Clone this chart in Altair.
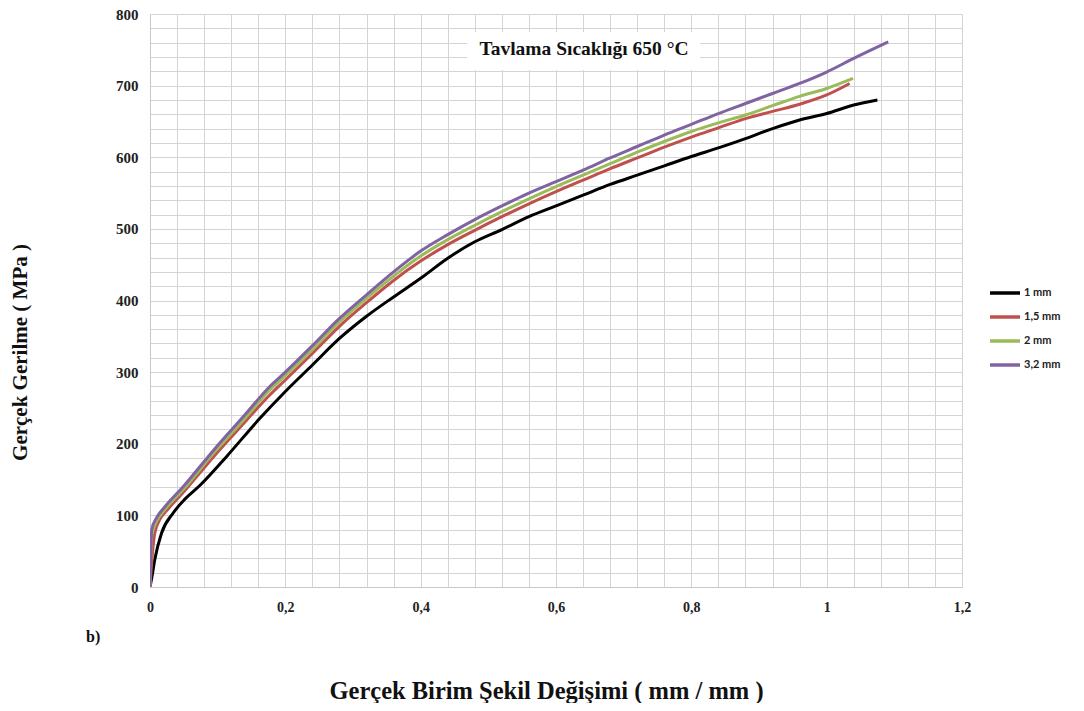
import altair as alt
import pandas as pd

# ---- data ----
series_names = ["1 mm", "1,5 mm", "2 mm", "3,2 mm"]
series_colors = ["#000000", "#c0504d", "#9bbb59", "#8064a2"]

x_1mm = [0, 0.003, 0.007, 0.017, 0.034, 0.052, 0.074, 0.113, 0.16, 0.2, 0.24, 0.28, 0.32, 0.36, 0.4, 0.44,
         0.48, 0.52, 0.56, 0.6, 0.64, 0.68, 0.72, 0.76, 0.8, 0.84, 0.88, 0.92, 0.96, 1.0, 1.04, 1.075]
y_1mm = [0, 15, 38, 75, 103, 123, 142, 182, 233, 273, 310, 347, 378, 405, 431, 459,
         482, 499, 517, 532, 547, 562, 575, 588, 601, 613, 626, 640, 652, 661, 673, 680]

x_15mm = [0, 0.003, 0.007, 0.015, 0.025, 0.05, 0.094, 0.14, 0.177, 0.2, 0.24, 0.28, 0.32, 0.36, 0.4,
          0.44, 0.48, 0.52, 0.56, 0.6, 0.64, 0.68, 0.72, 0.76, 0.8, 0.84, 0.88, 0.92, 0.96, 1.0, 1.034]
y_15mm = [0, 40, 75, 95, 107, 133, 182, 230, 268, 289, 326, 364, 397, 428, 455,
          478, 498, 517, 535, 552, 568, 584, 599, 614, 628, 641, 654, 664, 674, 687, 703]

x_2mm = [0, 0.001, 0.0025, 0.01, 0.022, 0.049, 0.094, 0.14, 0.177, 0.2, 0.24, 0.28, 0.32, 0.36, 0.4,
         0.44, 0.48, 0.52, 0.56, 0.6, 0.64, 0.68, 0.72, 0.76, 0.8, 0.84, 0.88, 0.92, 0.96, 1.0, 1.039]
y_2mm = [0, 35, 72, 92, 108, 136, 187, 235, 275, 295, 332, 370, 403, 434, 462,
         485, 505, 524, 542, 559, 575, 591, 607, 622, 636, 648, 659, 672, 685, 696, 710]

x_32mm = [0, 0.001, 0.0025, 0.01, 0.022, 0.049, 0.094, 0.14, 0.177, 0.2, 0.24, 0.28, 0.32, 0.36, 0.4,
          0.44, 0.48, 0.52, 0.56, 0.6, 0.64, 0.68, 0.72, 0.76, 0.8, 0.84, 0.88, 0.92, 0.96, 1.0, 1.04, 1.091]
y_32mm = [0, 40, 80, 97, 112, 140, 191, 240, 280, 300, 337, 375, 408, 440, 469,
          492, 513, 532, 550, 566, 582, 599, 615, 631, 646, 661, 675, 689, 703, 719, 738, 761]

x_grid_values = [0, 0.04, 0.08, 0.12, 0.16, 0.2, 0.24, 0.28, 0.32, 0.36, 0.4, 0.44, 0.48, 0.52, 0.56,
                 0.6, 0.64, 0.68, 0.72, 0.76, 0.8, 0.84, 0.88, 0.92, 0.96, 1.0, 1.04, 1.08, 1.12,
                 1.16, 1.2]
y_grid_values = [0, 20, 40, 60, 80, 100, 120, 140, 160, 180, 200, 220, 240, 260, 280, 300, 320, 340,
                 360, 380, 400, 420, 440, 460, 480, 500, 520, 540, 560, 580, 600, 620, 640, 660, 680,
                 700, 720, 740, 760, 780, 800]

title_text = "Tavlama Sıcaklığı 650 °C"
x_title = "Gerçek Birim Şekil Değişimi ( mm / mm )"
y_title = "Gerçek Gerilme ( MPa )"
panel_label = "b)"

# ---- build long table ----
rows = []
for name, xs, ys in [("1 mm", x_1mm, y_1mm), ("1,5 mm", x_15mm, y_15mm),
                     ("2 mm", x_2mm, y_2mm), ("3,2 mm", x_32mm, y_32mm)]:
    for i, (xv, yv) in enumerate(zip(xs, ys)):
        rows.append({"series": name, "strain": xv, "stress": yv, "idx": i})
df = pd.DataFrame(rows)

SERIF = "Liberation Serif"
W, H = 812, 573

x_enc = alt.X(
    "strain:Q",
    scale=alt.Scale(domain=[0, 1.2], nice=False, zero=False),
    axis=alt.Axis(
        values=x_grid_values,
        format="~g",
        labelExpr="abs(datum.value*5 - round(datum.value*5)) < 0.001 ? replace(datum.label, '.', ',') : ''",
        title=x_title,
        titleFont=SERIF, titleFontSize=24.5, titleFontWeight="bold", titleColor="#111",
        titleX=396, titleY=104, titleBaseline="middle", titleAnchor="middle",
        labelFont=SERIF, labelFontSize=14, labelFontWeight="bold", labelColor="#222",
        labelPadding=13, ticks=False,
        grid=True, gridColor="#d4d4d4", gridWidth=1,
        domainColor="#c8c8c8", labelOverlap=False, labelFlush=False,
    ),
)
y_enc = alt.Y(
    "stress:Q",
    scale=alt.Scale(domain=[0, 800], nice=False),
    axis=alt.Axis(
        values=y_grid_values,
        format="d",
        labelExpr="datum.value % 100 == 0 ? datum.label : ''",
        title=y_title,
        titleFont=SERIF, titleFontSize=21, titleFontWeight="bold", titleColor="#111",
        titleX=-130, titleY=338, titleAngle=-90, titleBaseline="middle", titleAnchor="middle",
        labelFont=SERIF, labelFontSize=15, labelFontWeight="bold", labelColor="#222",
        labelPadding=12, ticks=False,
        grid=True, gridColor="#d4d4d4", gridWidth=1,
        domainColor="#c8c8c8", labelOverlap=False,
    ),
)

lines = alt.Chart(df).mark_line(strokeWidth=3, clip=True, interpolate="monotone").encode(
    x=x_enc,
    y=y_enc,
    order="idx:Q",
    color=alt.Color(
        "series:N",
        scale=alt.Scale(domain=series_names, range=series_colors),
        sort=series_names,
        legend=alt.Legend(
            title=None, orient="none", legendX=838, legendY=262,
            symbolType="stroke", symbolSize=900, symbolStrokeWidth=3.5,
            labelFont="Lato", labelFontSize=11, labelFontWeight="bold", labelColor="#222",
            rowPadding=0, labelOffset=2,
        ),
    ),
)

box = alt.Chart(pd.DataFrame({"t": [title_text]})).mark_rect(color="white").encode(
    x=alt.value(317), x2=alt.value(550), y=alt.value(18), y2=alt.value(56)
)
title_mark = alt.Chart(pd.DataFrame({"t": [title_text]})).mark_text(
    font=SERIF, fontSize=19.5, fontWeight="bold", color="#111", align="center", baseline="middle"
).encode(x=alt.value(434), y=alt.value(35), text="t:N")

b_mark = alt.Chart(pd.DataFrame({"t": [panel_label]})).mark_text(
    font=SERIF, fontSize=16, fontWeight="bold", color="#111", align="left", baseline="middle"
).encode(x=alt.value(-64), y=alt.value(623), text="t:N")

chart = alt.layer(box, lines, title_mark, b_mark).properties(
    width=W, height=H,
    autosize=alt.AutoSizeParams(type="none"),
    padding={"left": 142, "top": 6, "right": 114, "bottom": 116},
).configure_view(stroke=None).configure(background="white")

chart.save("out.html", embed_options={"renderer": "svg", "actions": False})
